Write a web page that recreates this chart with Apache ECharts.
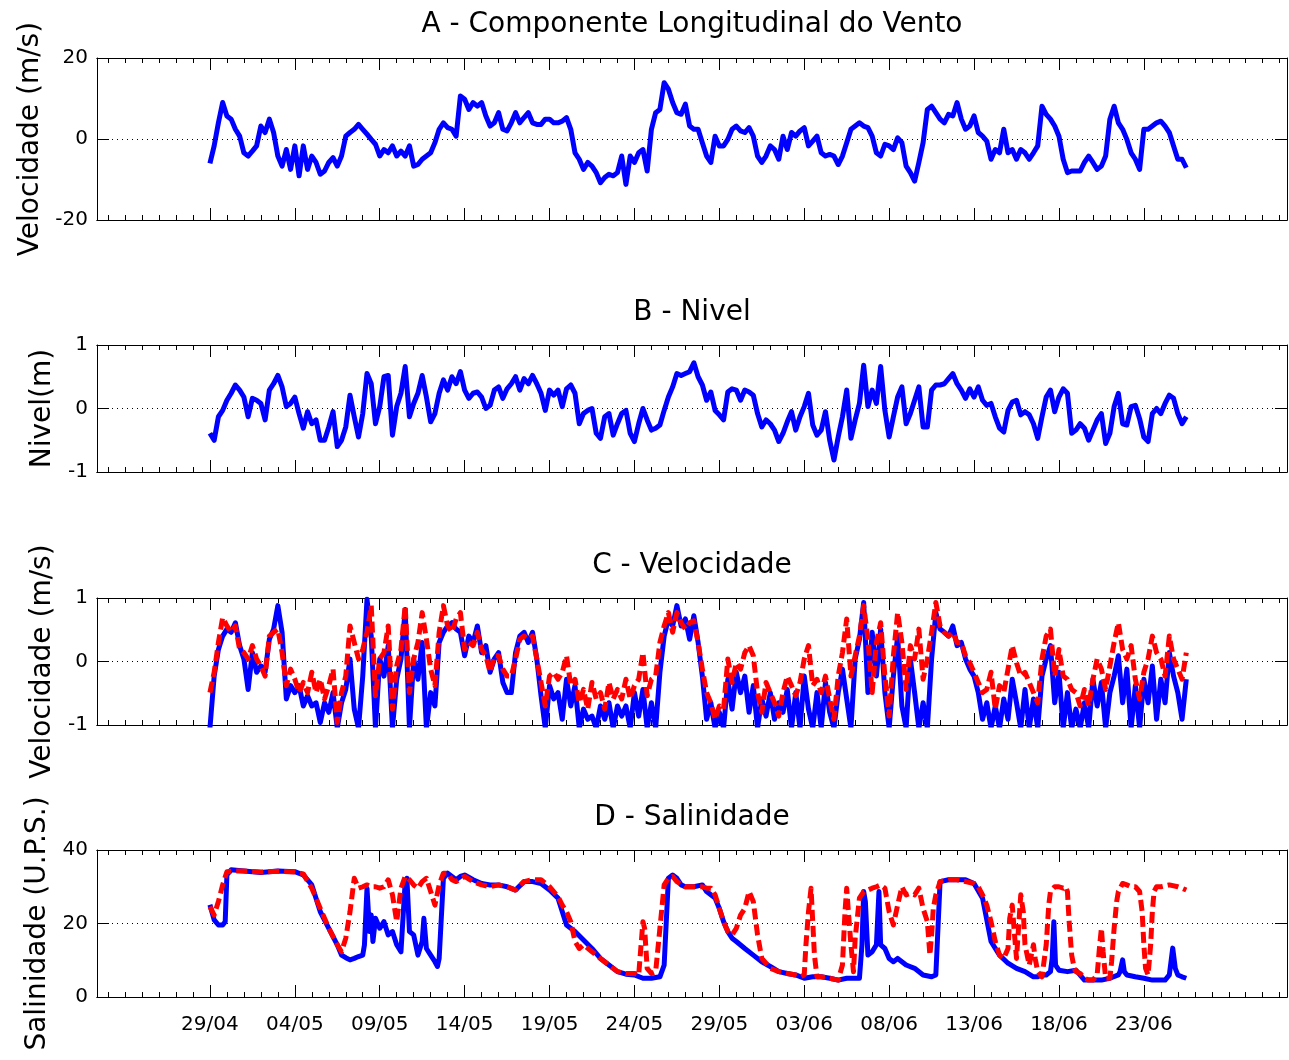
<!DOCTYPE html>
<html><head><meta charset="utf-8">
<script src="https://cdn.jsdelivr.net/npm/echarts@6/dist/echarts.min.js"></script>
<style>html,body{margin:0;padding:0;background:#fff}#c{width:1289px;height:1060px}</style>
</head><body><div id="c"></div>
<script>
// time step (days) of the regularly sampled series, day 0 = 29/04
const STEP = 0.25;

// A - longitudinal wind component (m/s), one value every 0.25 day from 29/04
const windAlong = [
-6.0,-1.7,4.0,9.0, 5.7,4.9,2.4,0.7, -3.4,-4.2,-3.0,-1.7, 3.2,1.6,4.9,1.6,
-4.2,-6.7,-2.6,-7.5, -1.7,-9.1,-1.7,-7.5, -4.2,-5.8,-8.7,-7.9, -5.8,-4.6,-6.7,-4.2,
0.7,1.6,2.4,3.6, 2.4,1.2,-0.1,-1.3, -4.2,-2.6,-3.4,-1.7, -4.2,-3.0,-4.2,-1.7,
-6.7,-6.3,-5.0,-4.2, -3.4,-0.9,2.4,4.0, 2.8,2.4,0.7,10.6, 9.8,7.3,9.0,8.1,
9.0,5.7,3.2,4.0, 6.5,2.4,2.0,4.0, 6.5,4.0,5.3,6.5, 4.0,3.6,3.6,4.9,
4.9,4.0,4.0,4.4, 5.3,2.4,-3.4,-5.0, -7.5,-5.8,-6.7,-8.3, -10.8,-9.5,-8.7,-9.1,
-8.3,-4.2,-11.2,-4.2, -5.8,-3.4,-2.6,-7.9, 2.4,6.5,7.3,13.9, 12.3,9.0,6.5,6.1,
8.6,3.2,2.4,2.4, -0.9,-4.2,-5.8,0.7, -1.7,-1.7,-0.1,2.4, 3.2,2.0,1.6,2.8,
0.7,-4.2,-5.8,-4.2, -1.7,-2.6,-5.0,0.7, -2.6,1.6,0.7,2.0, 2.8,-1.7,-0.5,0.7,
-3.4,-4.2,-3.8,-4.2, -6.3,-4.2,-0.9,2.4, 3.2,4.0,3.2,2.8, 0.7,-3.4,-4.2,-1.3,
-1.7,-2.6,0.3,-0.9, -6.7,-8.3,-10.4,-5.8, -0.9,7.3,8.1,6.5, 4.9,4.0,6.1,5.7,
9.0,4.9,2.4,3.2, 5.7,1.6,0.7,-0.5, -5.0,-2.6,-3.4,2.4, -3.4,-2.6,-5.0,-2.6,
-3.4,-5.0,-3.4,-1.7, 8.1,6.1,4.9,3.2, 0.7,-5.0,-8.3,-7.9, -7.9,-7.9,-5.8,-4.2,
-5.8,-7.5,-6.7,-4.2, 4.9,8.1,4.0,2.4, -0.1,-3.4,-5.0,-7.5, 2.4,2.4,3.2,4.0,
4.4,3.2,1.6,-1.7, -5.0,-5.0,-7.1
];

// B - water level (m)
const nivel = [
-0.39,-0.50,-0.13,-0.03, 0.13,0.24,0.37,0.29, 0.18,-0.13,0.16,0.13, 0.08,-0.18,0.29,0.39,
0.52,0.34,0.03,0.08, 0.18,-0.08,-0.31,-0.05, -0.24,-0.18,-0.50,-0.50, -0.29,-0.05,-0.60,-0.50,
-0.29,0.21,-0.13,-0.45, -0.08,0.55,0.39,-0.24, 0.03,0.50,0.52,-0.42, 0.03,0.24,0.66,-0.13,
0.08,0.24,0.52,0.18, -0.21,-0.08,0.24,0.45, 0.29,0.50,0.39,0.58, 0.29,0.16,0.24,0.26,
0.18,0.0,0.05,0.29, 0.34,0.16,0.31,0.39, 0.50,0.29,0.47,0.39, 0.52,0.39,0.24,-0.03,
0.29,0.21,0.29,0.03, 0.31,0.37,0.24,-0.24, -0.08,-0.03,0.0,-0.39, -0.47,-0.13,-0.08,-0.42,
-0.24,-0.08,-0.03,-0.39, -0.52,-0.24,0.0,-0.18, -0.34,-0.31,-0.26,-0.03, 0.18,0.34,0.55,0.52,
0.55,0.58,0.72,0.50, 0.37,0.13,0.26,-0.03, -0.10,-0.18,0.26,0.31, 0.29,0.13,0.29,0.26,
0.21,-0.08,-0.29,-0.18, -0.24,-0.34,-0.52,-0.39, -0.21,-0.05,-0.34,-0.13, 0.03,0.24,-0.26,-0.42,
-0.34,-0.05,-0.50,-0.81, -0.45,-0.13,0.29,-0.47, -0.18,0.08,0.68,0.03, 0.29,0.08,0.66,-0.03,
-0.45,-0.13,0.18,0.34, -0.24,-0.08,0.13,0.34, -0.29,-0.29,0.29,0.37, 0.37,0.39,0.47,0.55,
0.39,0.29,0.16,0.31, 0.18,0.34,0.13,0.05, 0.08,-0.13,-0.31,-0.37, -0.03,0.10,0.13,-0.10,
-0.05,-0.10,-0.24,-0.47, -0.13,0.18,0.29,-0.05, 0.18,0.31,0.24,-0.39, -0.34,-0.24,-0.31,-0.50,
-0.34,-0.18,-0.08,-0.55, -0.39,0.03,0.24,-0.24, -0.26,0.03,0.05,-0.16, -0.45,-0.52,-0.08,0.0,
-0.08,0.08,0.21,0.16, -0.08,-0.24,-0.13
];

// C - current velocity (m/s), blue solid series
const velBlue = [
-1.05,-0.23,0.19,0.40, 0.51,0.46,0.61,0.25, 0.04,-0.44,0.14,-0.17, -0.07,-0.17,0.35,0.51,
0.88,0.46,-0.59,-0.38, -0.49,-0.38,-0.70,-0.54, -0.70,-0.65,-0.96,-0.65, -0.80,-0.49,-1.05,-0.65,
-0.44,0.04,-0.75,-1.05, -0.23,0.98,0.40,-1.05, 0.04,-0.23,0.25,-1.05, -0.28,0.04,0.82,-1.05,
0.04,-0.28,0.30,-1.05, -0.49,-0.70,0.30,0.46, 0.56,0.61,0.51,0.46, 0.09,0.40,0.30,0.56,
0.14,0.25,-0.17,0.04, 0.14,-0.33,-0.49,-0.49, 0.14,0.40,0.46,0.30, 0.46,0.04,-0.54,-1.05,
-0.38,-0.59,-0.49,-0.91, -0.28,-0.70,-0.38,-1.05, -0.75,-0.91,-0.86,-1.05, -0.70,-0.91,-0.65,-1.05,
-0.70,-0.86,-0.70,-1.05, -0.49,-0.86,-0.44,-1.05, -0.65,-1.05,-0.17,0.40, 0.67,0.56,0.88,0.56,
0.67,0.35,0.72,0.30, -0.23,-0.91,-0.65,-1.05, -0.80,-1.05,-0.28,-0.75, -0.17,-0.49,-0.23,-0.80,
-0.38,-1.05,-0.59,-0.86, -0.49,-0.91,-0.65,-0.80, -0.44,-1.05,-0.49,-1.05, -0.23,-0.75,-1.05,-0.49,
-1.05,-0.33,-0.80,-1.05, -0.49,-0.12,-0.59,-1.05, 0.04,0.35,0.93,-0.49, 0.46,-0.23,0.51,-0.49,
-1.05,-0.23,0.40,-0.70, -1.05,0.04,-0.49,-1.05, -0.65,-1.05,0.04,0.77, 0.51,0.46,0.40,0.56,
0.25,0.30,0.04,-0.12, -0.23,-0.49,-0.91,-0.65, -1.05,-0.70,-1.05,-0.59, -0.91,-0.28,-0.65,-1.05,
-0.44,-1.05,-0.59,-1.05, -0.23,0.04,0.25,-0.65, -0.17,-1.05,-0.49,-1.05, -0.75,-1.05,-0.65,-1.05,
-0.28,-0.70,-0.33,-1.05, -0.49,-0.23,0.09,-0.65, -0.12,-1.05,-0.38,-1.05, -0.28,-0.65,-0.07,-0.91,
-0.28,-0.65,0.14,-0.23, -0.49,-0.91,-0.28
];

// C - current velocity (m/s), red dashed series
const velRed = [
-0.49,-0.17,0.30,0.69, 0.56,0.46,0.56,0.19, 0.14,0.04,0.25,0.04, -0.07,-0.23,0.40,0.46,
0.51,0.14,-0.38,-0.12, -0.28,-0.49,-0.33,-0.49, -0.17,-0.49,-0.28,-0.59, -0.38,-0.12,-0.96,-0.49,
-0.23,0.56,0.30,0.04, 0.19,0.46,0.88,-0.54, 0.04,0.14,0.56,-0.75, -0.07,0.19,0.88,-0.49,
0.04,0.30,0.77,0.35, -0.12,-0.38,0.46,0.88, 0.56,0.46,0.67,0.77, 0.19,0.30,0.25,0.46,
0.19,0.09,-0.17,0.09, 0.09,-0.12,-0.23,-0.23, 0.04,0.35,0.40,0.35, 0.40,0.04,-0.33,-0.70,
-0.23,-0.17,-0.28,-0.17, 0.09,-0.38,-0.28,-0.65, -0.44,-0.75,-0.33,-0.59, -0.49,-0.75,-0.33,-0.59,
-0.44,-0.59,-0.28,-0.59, -0.38,-0.28,0.14,-0.54, -0.28,-0.23,0.30,0.56, 0.77,0.46,0.77,0.61,
0.51,0.61,0.64,0.30, -0.12,-0.49,-0.65,-0.91, -0.70,-0.75,0.04,-0.33, -0.02,-0.12,0.14,0.25,
0.09,-0.49,-0.80,-0.33, -0.49,-0.65,-0.86,-0.49, -0.23,-0.38,-0.54,-0.33, 0.04,0.25,-0.38,-0.28,
-0.49,-0.23,-0.59,-0.91, -0.23,0.14,0.67,-0.23, 0.09,0.40,0.88,0.35, -0.49,0.30,0.61,-0.23,
-0.86,0.09,0.77,0.30, -0.44,0.25,0.04,0.51, -0.28,0.04,0.46,0.93, 0.56,0.46,0.40,0.46,
0.30,0.30,0.09,-0.02, -0.17,-0.33,-0.49,-0.44, -0.17,-0.75,-0.38,-0.49, -0.12,0.25,-0.02,-0.23,
-0.17,-0.33,-0.49,-0.65, 0.04,0.40,0.51,-0.23, 0.19,-0.23,-0.28,-0.44, -0.49,-0.70,-0.44,-0.70,
-0.28,0.04,-0.12,-0.44, -0.07,0.30,0.61,0.19, 0.04,0.25,-0.28,-0.59, -0.17,0.04,0.40,0.14,
0.04,-0.23,0.40,0.04, -0.12,-0.28,0.14
];

// D - salinity (U.P.S.), blue solid series: days since 29/04 and values
const salBlueDays = [0,0.25,0.5,0.75,0.9,1.0,1.25,2,3,4,
5,5.5,6,6.5,7,7.5,7.75,8,8.25,8.5,
8.75,9,9.1,9.25,9.4,9.5,9.6,9.75,10,10.25,
10.5,10.75,11,11.25,11.5,11.6,11.75,12,12.25,12.5,
12.6,12.75,13,13.25,13.4,13.5,13.75,14,14.25,14.5,
14.75,15,15.5,16,16.5,17,17.5,18,18.5,19,
19.5,20,20.5,21,21.5,22,22.5,23,23.5,24,
24.5,25,25.5,26,26.5,26.75,27,27.25,27.5,27.75,
28,28.5,29,29.25,29.5,29.75,30,30.25,30.5,30.75,
31,31.5,32,32.5,33,33.5,34,34.5,35,35.5,
36,36.5,37,37.5,38,38.25,38.4,38.5,38.6,38.75,
39,39.25,39.4,39.5,39.75,40,40.25,40.5,40.75,41,
41.5,42,42.5,42.75,43,43.5,44,44.5,45,45.5,
46,46.5,47,47.5,48,48.5,48.75,49,49.25,49.5,
49.6,49.7,49.8,50,50.5,51,51.5,52,52.5,53,
53.5,53.6,53.75,53.85,54,54.5,55,55.5,56,56.25,
56.5,56.7,56.85,57,57.25,57.5];
const salBlueVals = [25.1,21.0,19.6,19.6,20.5,33.2,34.6,34.3,33.9,34.3,
34.1,33.2,30.5,23.2,18.7,14.2,11.4,10.7,10.1,10.5,
11.0,11.4,14.2,29.6,17.8,22.3,15.1,21.4,18.7,20.5,
16.9,17.8,14.2,12.3,31.4,32.3,17.8,16.9,11.4,15.1,
21.4,13.2,11.4,9.6,8.3,10.5,32.3,33.7,32.8,31.9,
32.8,33.2,31.9,30.9,30.5,30.5,30.0,29.1,31.4,31.4,
30.9,29.1,26.9,19.6,17.8,15.5,13.2,10.5,8.7,6.9,
6.2,6.0,5.1,5.1,5.5,8.7,32.3,33.2,32.3,30.5,
30.0,30.0,30.5,28.7,27.8,26.9,24.1,20.5,17.8,16.0,
15.1,13.2,11.4,9.6,8.3,6.9,6.4,6.0,5.1,5.5,
5.5,5.1,4.6,5.1,5.1,5.1,14.2,28.7,26.0,11.4,
12.3,14.2,28.7,14.2,13.2,10.5,9.6,10.5,9.6,8.7,
7.8,6.0,5.5,6.0,31.4,31.9,31.9,31.9,30.9,26.9,
15.1,11.4,9.2,7.8,6.9,5.5,5.5,6.0,6.0,6.9,
10.5,20.5,8.7,7.3,6.9,7.3,4.6,4.6,4.6,5.1,
6.0,6.9,10.1,6.9,6.0,5.5,5.1,4.6,4.6,4.6,
6.0,13.3,7.8,6.0,5.5,5.1];

// D - salinity (U.P.S.), red dashed series
const salRedDays = [0,0.25,0.5,0.75,1,1.5,2,3,4,5,
5.5,6,6.5,7,7.5,7.75,8,8.25,8.5,8.75,
9,9.25,9.5,9.75,10,10.25,10.5,10.75,11,11.25,
11.5,11.75,12,12.25,12.5,12.75,13,13.25,13.5,13.75,
14,14.25,14.5,15,15.5,16,16.5,17,17.5,18,
18.5,19,19.5,20,20.5,20.75,21,21.25,21.5,21.75,
22,22.5,23,23.5,24,24.5,25,25.25,25.5,25.6,
25.75,26,26.25,26.5,26.75,27,27.25,27.5,28,28.5,
29,29.25,29.5,29.75,30,30.25,30.5,30.75,31,31.25,
31.5,31.75,32,32.25,32.5,32.75,33,33.5,34,34.5,
34.75,35,35.1,35.25,35.4,35.5,35.6,35.75,36,36.5,
37,37.25,37.4,37.5,37.6,37.75,37.9,38,38.25,38.5,
38.75,39,39.25,39.5,39.75,40,40.25,40.5,40.75,41,
41.25,41.5,41.75,42,42.25,42.4,42.5,42.6,42.75,43,
43.5,44,44.5,45,45.25,45.5,45.75,46,46.25,46.5,
46.75,47,47.1,47.25,47.4,47.5,47.75,47.9,48,48.25,
48.5,48.6,48.75,49,49.25,49.4,49.5,49.75,50,50.25,
50.4,50.5,50.6,50.75,50.9,51,51.25,51.5,51.75,52,
52.25,52.4,52.5,52.6,52.75,53,53.1,53.25,53.4,53.5,
53.75,54,54.25,54.5,54.75,54.9,55,55.1,55.25,55.4,
55.5,55.6,55.75,56,56.5,57,57.25,57.5];
const salRedVals = [24.6,22.3,26.0,30.5,34.1,34.3,34.3,34.0,34.2,34.0,
33.5,29.6,24.1,18.7,14.2,12.3,16.0,23.2,32.3,29.6,
30.0,30.5,30.0,30.0,29.6,30.0,31.9,27.8,20.5,29.6,
32.8,31.9,30.5,29.6,31.4,32.3,28.7,25.0,30.5,33.7,
33.7,31.9,31.4,32.8,31.4,30.5,30.0,30.5,30.0,29.1,
31.4,31.9,31.9,30.0,27.3,25.0,23.2,20.5,15.1,13.2,
14.2,12.3,10.5,8.7,6.9,6.4,6.4,6.0,20.5,18.7,
7.8,6.4,6.9,18.7,30.5,32.3,32.8,31.4,30.0,30.0,
30.0,29.6,29.6,27.8,24.1,20.5,17.8,16.9,18.7,22.3,
24.1,28.7,26.0,16.9,10.5,9.2,7.8,6.9,6.4,6.0,
5.5,6.0,14.2,23.2,29.6,20.5,11.4,5.5,5.5,5.1,
4.6,8.7,23.2,29.6,23.2,14.2,6.9,16.0,26.9,28.7,
29.1,29.6,30.0,30.5,29.6,23.2,19.6,25.0,30.0,27.8,
28.2,27.8,29.6,24.1,20.5,11.4,16.9,24.1,27.8,31.4,
31.9,31.9,31.4,30.9,30.0,27.8,25.0,20.5,15.1,11.4,
10.5,13.2,21.4,25.0,16.0,10.5,27.8,23.2,14.2,8.7,
14.2,10.5,6.9,5.5,14.2,25.0,28.7,30.0,30.0,29.6,
30.0,28.7,20.5,11.4,7.8,6.9,6.4,5.1,4.6,4.6,
6.0,14.2,18.7,12.3,5.1,5.1,9.6,18.7,26.0,28.7,
30.9,30.5,30.0,30.0,28.7,23.2,14.2,7.8,6.0,14.2,
23.2,28.7,30.0,30.0,30.5,30.0,29.6,29.1];

// x axis ticks and labels
const majorDays = [0,5,10,15,20,25,30,35,40,45,50,55];
const tickLabels = ['29/04','04/05','09/05','14/05','19/05','24/05','29/05','03/06','08/06','13/06','18/06','23/06'];
const panelTitles = ['A - Componente Longitudinal do Vento','B - Nivel','C - Velocidade','D - Salinidade'];
const yNames = ['Velocidade (m/s)','Nivel(m)','Velocidade (m/s)','Salinidade (U.P.S.)'];
const yMins = [-20,-1,-1,0];
const yMaxs = [20,1,1,40];
const yIntervals = [20,1,1,20];

[windAlong, nivel, velBlue, velRed].forEach((a, i) => { if (a.length !== 231) throw new Error('len ' + i + ' ' + a.length); });
if (salBlueDays.length !== salBlueVals.length) throw new Error('salBlue');
if (salRedDays.length !== salRedVals.length) throw new Error('salRed');

// ---------- layout / style ----------
const FONT = 'DejaVu Sans';
const XMIN = -6.65, XMAX = 63.43;
const minorDays = [];
for (let d = -6; d <= 63; d++) minorDays.push(d);
const tops = [58, 345, 598, 850];
const heights = [162, 127, 127, 147];
const nameGaps = [51, 37, 37, 37];
const titleY = [25, 313, 566, 818];
const BLUE = '#0000ff', RED = '#ff0000';

const reg = arr => arr.map((v, i) => [i * STEP, v]);
const pairs = (xs, ys) => xs.map((x, i) => [x, ys[i]]);

const grids = [], xAxes = [], yAxes = [];
const lineSt = {color: '#000', width: 1};
for (let g = 0; g < 4; g++) {
  grids.push({left: 97, right: 2, top: tops[g], height: heights[g], outerBoundsMode: 'none', containLabel: false});
  const base = {type: 'value', gridIndex: g, min: XMIN, max: XMAX, splitLine: {show: false},
    axisLine: {show: true, onZero: false, lineStyle: lineSt}, axisLabel: {show: false}};
  const minorTick = {show: true, inside: true, length: 5, customValues: minorDays, lineStyle: lineSt};
  const majorTick = {show: true, inside: true, length: 12, customValues: majorDays, lineStyle: lineSt};
  xAxes.push(Object.assign({}, base, {position: 'bottom', axisTick: minorTick}));
  xAxes.push(Object.assign({}, base, {position: 'bottom', axisTick: majorTick,
    axisLabel: g === 3 ? {show: true, customValues: majorDays, margin: 18, fontSize: 20, fontFamily: FONT, color: '#000',
      formatter: v => { const k = majorDays.indexOf(v); return k >= 0 ? tickLabels[k] : ''; }} : {show: false}}));
  xAxes.push(Object.assign({}, base, {position: 'top', axisTick: minorTick}));
  xAxes.push(Object.assign({}, base, {position: 'top', axisTick: majorTick}));
  const ybase = {type: 'value', gridIndex: g, min: yMins[g], max: yMaxs[g], interval: yIntervals[g],
    axisLine: {show: true, onZero: false, lineStyle: lineSt},
    axisTick: {show: true, inside: true, length: 12, lineStyle: lineSt}};
  yAxes.push(Object.assign({}, ybase, {position: 'left',
    axisLabel: {show: true, margin: 9, fontSize: 20, fontFamily: FONT, color: '#000'},
    splitLine: {show: true, lineStyle: {color: '#000', width: 1, type: [1, 4]}},
    name: yNames[g], nameLocation: 'middle', nameGap: nameGaps[g],
    nameTextStyle: {fontSize: 28, fontFamily: FONT, color: '#000'}}));
  yAxes.push(Object.assign({}, ybase, {position: 'right', axisLabel: {show: false}, splitLine: {show: false}}));
}

function mkSeries(g, data, color, dashed) {
  return {type: 'line', xAxisIndex: g * 4, yAxisIndex: g * 2, data: data, symbol: 'none', showSymbol: false,
    animation: false, clip: true, silent: true,
    lineStyle: {color: color, width: 5, join: 'round', type: dashed ? [11, 5] : 'solid'},
    itemStyle: {color: color}};
}
const series = [
  mkSeries(0, reg(windAlong), BLUE, false),
  mkSeries(1, reg(nivel), BLUE, false),
  mkSeries(2, reg(velBlue), BLUE, false),
  mkSeries(2, reg(velRed), RED, true),
  mkSeries(3, pairs(salBlueDays, salBlueVals), BLUE, false),
  mkSeries(3, pairs(salRedDays, salRedVals), RED, true)
];

const graphic = panelTitles.map((t, i) => ({type: 'text', x: 692, y: titleY[i], silent: true,
  style: {text: t, fontSize: 28, fontFamily: FONT, fill: '#000', align: 'center', verticalAlign: 'middle',
    textAlign: 'center', textVerticalAlign: 'middle'}}));

const chart = echarts.init(document.getElementById('c'), null, {renderer: 'canvas'});
chart.setOption({
  backgroundColor: '#fff', animation: false,
  grid: grids, xAxis: xAxes, yAxis: yAxes, series: series, graphic: graphic
});
</script>
</body></html>
